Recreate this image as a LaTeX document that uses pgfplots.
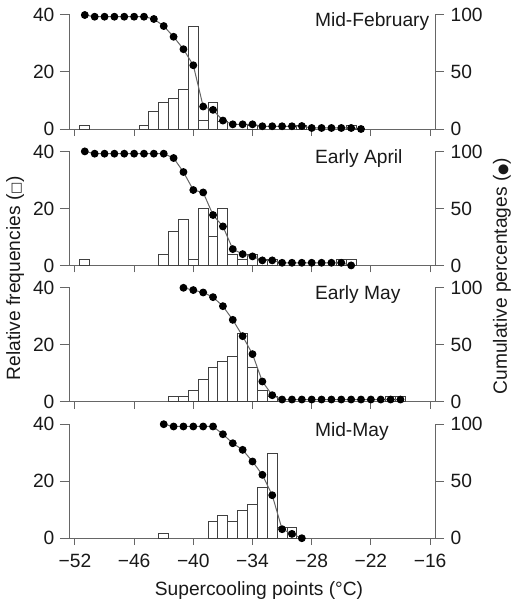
\documentclass[border=0pt]{standalone}
\usepackage{fontspec}
\setmainfont{Liberation Sans}
\newfontfamily\symfont{DejaVu Sans}
\usepackage{pgfplots}
\usepackage{pgfplotstable}
\pgfplotsset{compat=1.18}

\definecolor{axgray}{gray}{0.4}
\definecolor{bargray}{gray}{0.25}
\definecolor{txt}{gray}{0.1}

% relative frequencies (%), 1 degree classes
\pgfplotstableread{
x h
-51 1.4
-45 1.4
-44 6.1
-43 9.2
-42 10.8
-41 13.9
-40 35.9
-39 2.9
-38 9.2
-37 2.8
-34 1.4
-29 1.4
-24 1.4
}\febbars
\pgfplotstableread{
x c
-51 100
-50 98.5
-49 98.5
-48 98.5
-47 98.5
-46 98.5
-45 98.5
-44 96.5
-43 90.3
-42 80.9
-41 70.0
-40 55.9
-39 19.7
-38 16.8
-37 7.4
-36 4.1
-35 4.1
-34 4.1
-33 2.4
-32 2.4
-31 2.4
-30 2.4
-29 2.6
-28 0.9
-27 0.9
-26 0.9
-25 0.9
-24 0.9
-23 0
}\febcum

\pgfplotstableread{
x h
-51 2
-43 4
-42 12
-41 16
-40 2
-39 20
-38 10
-37 20
-36 4
-35 2
-34 4
-33 2
-32 2
-25 2
-24 2
}\aprbars
\pgfplotstableread{
x c
-51 100
-50 98
-49 98
-48 98
-47 98
-46 98
-45 98
-44 98
-43 98
-42 94.2
-41 81.9
-40 66.1
-39 64.0
-38 44.2
-37 34.2
-36 14.3
-35 9.9
-34 7.9
-33 4.4
-32 4.4
-31 2.3
-30 2.3
-29 2.3
-28 2.3
-27 2.3
-26 2.3
-25 2.3
-24 0
}\aprcum

\pgfplotstableread{
x h
-42 2
-41 2
-40 4
-39 8
-38 12
-37 14
-36 16
-35 24
-34 12
-33 4
-32 2
-20 2
-19 2
}\emaybars
\pgfplotstableread{
x c
-41 100
-40 98
-39 95.9
-38 91.8
-37 83.9
-36 71.9
-35 57.6
-34 41.8
-33 17.8
-32 5.8
-31 2
-30 2
-29 2
-28 2
-27 2
-26 2
-25 2
-24 2
-23 2
-22 2
-21 2
-20 2
-19 2
}\emaycum

\pgfplotstableread{
x h
-43 1.8
-38 5.8
-37 7.8
-36 5.8
-35 9.8
-34 11.9
-33 17.9
-32 29.8
-31 3.9
-30 3.9
}\mmaybars
\pgfplotstableread{
x c
-43 100
-42 98
-41 98
-40 98
-39 98
-38 98
-37 91.2
-36 83.3
-35 77.5
-34 67.3
-33 55.6
-32 37.7
-31 7.9
-30 3.8
-29 0
}\mmaycum

\pgfplotsset{
  panel/.style={
    scale only axis, width=182.5pt, height=57pt,
    xmin=-52.5, xmax=-15.5,
    anchor=north west,
    axis line style={axgray, line width=0.5pt},
    tick align=outside,
    tick style={axgray, line width=0.5pt},
    tick label style={font=\fontsize{9.6}{11}\selectfont, text=txt},
    /pgf/number format/assume math mode=true,
    clip=false,
  },
  freq/.style={
    panel,
    axis x line*=bottom, axis y line*=left,
    ymin=0, ymax=40, ytick={0,20,40},
    xtick={-52,-46,-40,-34,-28,-22,-16},
    xticklabels={},
    xtick style={/pgfplots/major tick length=3.5pt},
    ytick style={/pgfplots/major tick length=5pt},
  },
  cum/.style={
    panel,
    hide x axis, axis y line*=right,
    ymin=0, ymax=100, ytick={0,50,100},
    ytick style={/pgfplots/major tick length=4.5pt},
  },
  bars/.style={ybar, bar width=1, fill=white, draw=bargray, line width=0.5pt},
  cline/.style={axgray, line width=0.5pt, mark=*, mark size=1.7pt,
    mark options={fill=black, draw=black}},
}

\newcommand{\paneltitle}[1]{\node[anchor=base west, inner sep=0pt,
  font=\fontsize{9.6}{11}\selectfont, text=txt] at (axis cs:-27.7,35.8) {#1};}

\begin{document}
\begin{tikzpicture}
\useasboundingbox (0,0) rectangle (256pt,-302pt);

% Mid-February
\begin{axis}[freq, at={(35pt,-7.5pt)}]
  \addplot[bars] table {\febbars};
  \paneltitle{Mid-February}
\end{axis}
\begin{axis}[cum, at={(35pt,-7.5pt)}]
  \addplot[cline] table {\febcum};
\end{axis}

% Early April
\begin{axis}[freq, at={(35pt,-75.7pt)}]
  \addplot[bars] table {\aprbars};
  \paneltitle{Early April}
\end{axis}
\begin{axis}[cum, at={(35pt,-75.7pt)}]
  \addplot[cline] table {\aprcum};
\end{axis}

% Early May
\begin{axis}[freq, at={(35pt,-143.9pt)}]
  \addplot[bars] table {\emaybars};
  \paneltitle{Early May}
\end{axis}
\begin{axis}[cum, at={(35pt,-143.9pt)}]
  \addplot[cline] table {\emaycum};
\end{axis}

% Mid-May
\begin{axis}[freq, at={(35pt,-212.1pt)},
  xticklabels={−52,−46,−40,−34,−28,−22,−16}]
  \addplot[bars] table {\mmaybars};
  \paneltitle{Mid-May}
\end{axis}
\begin{axis}[cum, at={(35pt,-212.1pt)}]
  \addplot[cline] table {\mmaycum};
\end{axis}

% axis titles
\node[rotate=90, text=txt, font=\fontsize{9.6}{11}\selectfont]
  at (7.6pt,-139pt) {Relative frequencies ({\symfont\fontsize{6.5}{7}\selectfont □})};
\node[rotate=90, text=txt, font=\fontsize{9.6}{11}\selectfont]
  at (251pt,-138pt) {Cumulative percentages ({\symfont\fontsize{6.5}{7}\selectfont ●})};
\node[anchor=base, text=txt, font=\fontsize{9.6}{11}\selectfont]
  at (129.5pt,-297.7pt) {Supercooling points (°C)};
\end{tikzpicture}
\end{document}
